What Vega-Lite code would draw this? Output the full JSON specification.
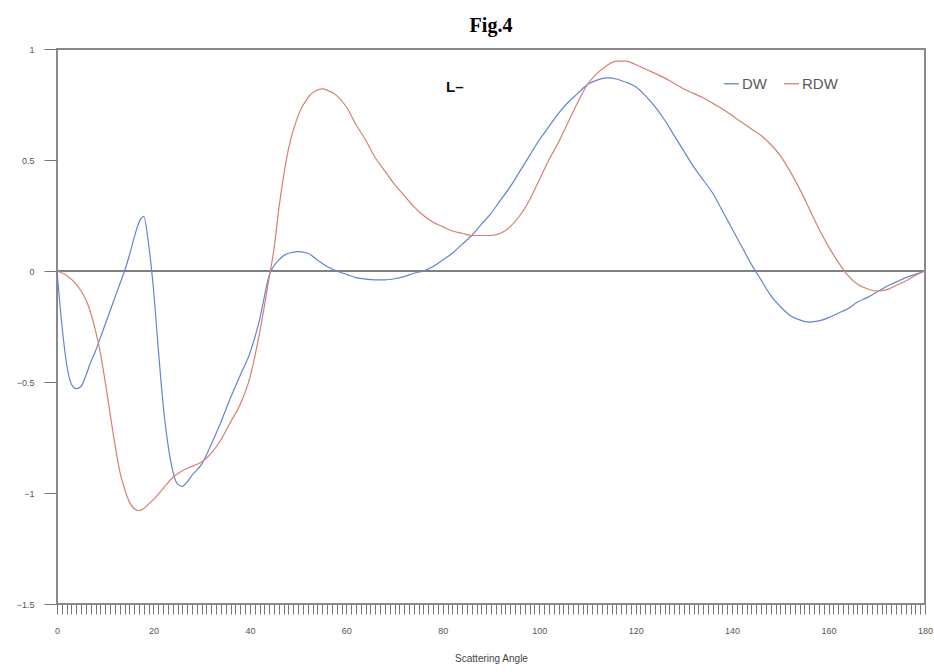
{
  "$schema": "https://vega.github.io/schema/vega-lite/v6.json",
  "autosize": {"type": "none"},
  "width": 868,
  "height": 555,
  "padding": {"left": 57, "top": 49, "right": 9, "bottom": 68},
  "background": "white",
  "title": {"text": "Fig.4", "font": "Liberation Serif", "fontSize": 20, "fontWeight": "bold", "color": "#000", "anchor": "middle", "offset": 9},
  "config": {
    "view": {"stroke": "#8a8a8a", "strokeWidth": 2},
    "axis": {"labelFont": "Liberation Sans", "titleFont": "Liberation Sans", "labelColor": "#555", "titleColor": "#444", "labelFontSize": 9, "titleFontSize": 10, "titleFontWeight": "normal", "domainColor": "#8a8a8a", "tickColor": "#777", "grid": false}
  },
  "datasets": {
    "curves": [
      {"angle": 0, "value": 0, "series": "DW"},
      {"angle": 1, "value": -0.24, "series": "DW"},
      {"angle": 2, "value": -0.42, "series": "DW"},
      {"angle": 3, "value": -0.51, "series": "DW"},
      {"angle": 4, "value": -0.53, "series": "DW"},
      {"angle": 5, "value": -0.52, "series": "DW"},
      {"angle": 6, "value": -0.47, "series": "DW"},
      {"angle": 7, "value": -0.41, "series": "DW"},
      {"angle": 8, "value": -0.36, "series": "DW"},
      {"angle": 9, "value": -0.3, "series": "DW"},
      {"angle": 10, "value": -0.24, "series": "DW"},
      {"angle": 11, "value": -0.18, "series": "DW"},
      {"angle": 12, "value": -0.12, "series": "DW"},
      {"angle": 13, "value": -0.06, "series": "DW"},
      {"angle": 14, "value": 0.0, "series": "DW"},
      {"angle": 15, "value": 0.07, "series": "DW"},
      {"angle": 16, "value": 0.15, "series": "DW"},
      {"angle": 17, "value": 0.22, "series": "DW"},
      {"angle": 18, "value": 0.245, "series": "DW"},
      {"angle": 19, "value": 0.12, "series": "DW"},
      {"angle": 20, "value": -0.08, "series": "DW"},
      {"angle": 21, "value": -0.35, "series": "DW"},
      {"angle": 22, "value": -0.6, "series": "DW"},
      {"angle": 23, "value": -0.78, "series": "DW"},
      {"angle": 24, "value": -0.9, "series": "DW"},
      {"angle": 25, "value": -0.96, "series": "DW"},
      {"angle": 26, "value": -0.97, "series": "DW"},
      {"angle": 27, "value": -0.95, "series": "DW"},
      {"angle": 28, "value": -0.92, "series": "DW"},
      {"angle": 30, "value": -0.87, "series": "DW"},
      {"angle": 32, "value": -0.78, "series": "DW"},
      {"angle": 34, "value": -0.68, "series": "DW"},
      {"angle": 36, "value": -0.57, "series": "DW"},
      {"angle": 38, "value": -0.47, "series": "DW"},
      {"angle": 40, "value": -0.37, "series": "DW"},
      {"angle": 42, "value": -0.22, "series": "DW"},
      {"angle": 44, "value": -0.02, "series": "DW"},
      {"angle": 46, "value": 0.05, "series": "DW"},
      {"angle": 48, "value": 0.08, "series": "DW"},
      {"angle": 50, "value": 0.087, "series": "DW"},
      {"angle": 52, "value": 0.08, "series": "DW"},
      {"angle": 54, "value": 0.05, "series": "DW"},
      {"angle": 56, "value": 0.02, "series": "DW"},
      {"angle": 58, "value": 0.0, "series": "DW"},
      {"angle": 60, "value": -0.015, "series": "DW"},
      {"angle": 62, "value": -0.03, "series": "DW"},
      {"angle": 64, "value": -0.037, "series": "DW"},
      {"angle": 66, "value": -0.04, "series": "DW"},
      {"angle": 68, "value": -0.04, "series": "DW"},
      {"angle": 70, "value": -0.035, "series": "DW"},
      {"angle": 72, "value": -0.025, "series": "DW"},
      {"angle": 74, "value": -0.01, "series": "DW"},
      {"angle": 76, "value": 0.0, "series": "DW"},
      {"angle": 78, "value": 0.02, "series": "DW"},
      {"angle": 80, "value": 0.05, "series": "DW"},
      {"angle": 82, "value": 0.08, "series": "DW"},
      {"angle": 84, "value": 0.12, "series": "DW"},
      {"angle": 86, "value": 0.16, "series": "DW"},
      {"angle": 88, "value": 0.21, "series": "DW"},
      {"angle": 90, "value": 0.26, "series": "DW"},
      {"angle": 92, "value": 0.32, "series": "DW"},
      {"angle": 94, "value": 0.38, "series": "DW"},
      {"angle": 96, "value": 0.45, "series": "DW"},
      {"angle": 98, "value": 0.52, "series": "DW"},
      {"angle": 100, "value": 0.59, "series": "DW"},
      {"angle": 102, "value": 0.65, "series": "DW"},
      {"angle": 104, "value": 0.71, "series": "DW"},
      {"angle": 106, "value": 0.76, "series": "DW"},
      {"angle": 108, "value": 0.8, "series": "DW"},
      {"angle": 110, "value": 0.84, "series": "DW"},
      {"angle": 112, "value": 0.86, "series": "DW"},
      {"angle": 114, "value": 0.87, "series": "DW"},
      {"angle": 116, "value": 0.865, "series": "DW"},
      {"angle": 118, "value": 0.85, "series": "DW"},
      {"angle": 120, "value": 0.83, "series": "DW"},
      {"angle": 122, "value": 0.79, "series": "DW"},
      {"angle": 124, "value": 0.74, "series": "DW"},
      {"angle": 126, "value": 0.68, "series": "DW"},
      {"angle": 128, "value": 0.61, "series": "DW"},
      {"angle": 130, "value": 0.54, "series": "DW"},
      {"angle": 132, "value": 0.47, "series": "DW"},
      {"angle": 134, "value": 0.41, "series": "DW"},
      {"angle": 136, "value": 0.35, "series": "DW"},
      {"angle": 138, "value": 0.27, "series": "DW"},
      {"angle": 140, "value": 0.19, "series": "DW"},
      {"angle": 142, "value": 0.11, "series": "DW"},
      {"angle": 144, "value": 0.03, "series": "DW"},
      {"angle": 146, "value": -0.04, "series": "DW"},
      {"angle": 148, "value": -0.11, "series": "DW"},
      {"angle": 150, "value": -0.16, "series": "DW"},
      {"angle": 152, "value": -0.2, "series": "DW"},
      {"angle": 154, "value": -0.22, "series": "DW"},
      {"angle": 156, "value": -0.23, "series": "DW"},
      {"angle": 158, "value": -0.225, "series": "DW"},
      {"angle": 160, "value": -0.21, "series": "DW"},
      {"angle": 162, "value": -0.19, "series": "DW"},
      {"angle": 164, "value": -0.17, "series": "DW"},
      {"angle": 166, "value": -0.14, "series": "DW"},
      {"angle": 168, "value": -0.12, "series": "DW"},
      {"angle": 170, "value": -0.095, "series": "DW"},
      {"angle": 172, "value": -0.07, "series": "DW"},
      {"angle": 174, "value": -0.05, "series": "DW"},
      {"angle": 176, "value": -0.03, "series": "DW"},
      {"angle": 178, "value": -0.015, "series": "DW"},
      {"angle": 180, "value": 0, "series": "DW"},
      {"angle": 0, "value": 0, "series": "RDW"},
      {"angle": 2, "value": -0.02, "series": "RDW"},
      {"angle": 4, "value": -0.06, "series": "RDW"},
      {"angle": 5, "value": -0.09, "series": "RDW"},
      {"angle": 6, "value": -0.13, "series": "RDW"},
      {"angle": 7, "value": -0.19, "series": "RDW"},
      {"angle": 8, "value": -0.27, "series": "RDW"},
      {"angle": 9, "value": -0.37, "series": "RDW"},
      {"angle": 10, "value": -0.5, "series": "RDW"},
      {"angle": 11, "value": -0.64, "series": "RDW"},
      {"angle": 12, "value": -0.78, "series": "RDW"},
      {"angle": 13, "value": -0.9, "series": "RDW"},
      {"angle": 14, "value": -0.98, "series": "RDW"},
      {"angle": 15, "value": -1.04, "series": "RDW"},
      {"angle": 16, "value": -1.07, "series": "RDW"},
      {"angle": 17, "value": -1.08, "series": "RDW"},
      {"angle": 18, "value": -1.07, "series": "RDW"},
      {"angle": 19, "value": -1.05, "series": "RDW"},
      {"angle": 20, "value": -1.03, "series": "RDW"},
      {"angle": 22, "value": -0.98, "series": "RDW"},
      {"angle": 24, "value": -0.93, "series": "RDW"},
      {"angle": 26, "value": -0.9, "series": "RDW"},
      {"angle": 28, "value": -0.88, "series": "RDW"},
      {"angle": 30, "value": -0.86, "series": "RDW"},
      {"angle": 32, "value": -0.82, "series": "RDW"},
      {"angle": 34, "value": -0.76, "series": "RDW"},
      {"angle": 36, "value": -0.68, "series": "RDW"},
      {"angle": 38, "value": -0.6, "series": "RDW"},
      {"angle": 40, "value": -0.48, "series": "RDW"},
      {"angle": 42, "value": -0.28, "series": "RDW"},
      {"angle": 44, "value": -0.03, "series": "RDW"},
      {"angle": 45, "value": 0.1, "series": "RDW"},
      {"angle": 46, "value": 0.28, "series": "RDW"},
      {"angle": 47, "value": 0.43, "series": "RDW"},
      {"angle": 48, "value": 0.55, "series": "RDW"},
      {"angle": 50, "value": 0.7, "series": "RDW"},
      {"angle": 52, "value": 0.78, "series": "RDW"},
      {"angle": 54, "value": 0.815, "series": "RDW"},
      {"angle": 55, "value": 0.82, "series": "RDW"},
      {"angle": 56, "value": 0.815, "series": "RDW"},
      {"angle": 58, "value": 0.79, "series": "RDW"},
      {"angle": 60, "value": 0.74, "series": "RDW"},
      {"angle": 62, "value": 0.66, "series": "RDW"},
      {"angle": 64, "value": 0.59, "series": "RDW"},
      {"angle": 66, "value": 0.51, "series": "RDW"},
      {"angle": 68, "value": 0.45, "series": "RDW"},
      {"angle": 70, "value": 0.39, "series": "RDW"},
      {"angle": 72, "value": 0.34, "series": "RDW"},
      {"angle": 74, "value": 0.29, "series": "RDW"},
      {"angle": 76, "value": 0.25, "series": "RDW"},
      {"angle": 78, "value": 0.22, "series": "RDW"},
      {"angle": 80, "value": 0.2, "series": "RDW"},
      {"angle": 82, "value": 0.18, "series": "RDW"},
      {"angle": 84, "value": 0.17, "series": "RDW"},
      {"angle": 86, "value": 0.16, "series": "RDW"},
      {"angle": 88, "value": 0.16, "series": "RDW"},
      {"angle": 90, "value": 0.16, "series": "RDW"},
      {"angle": 92, "value": 0.17, "series": "RDW"},
      {"angle": 94, "value": 0.2, "series": "RDW"},
      {"angle": 96, "value": 0.25, "series": "RDW"},
      {"angle": 98, "value": 0.32, "series": "RDW"},
      {"angle": 100, "value": 0.41, "series": "RDW"},
      {"angle": 102, "value": 0.5, "series": "RDW"},
      {"angle": 104, "value": 0.58, "series": "RDW"},
      {"angle": 106, "value": 0.67, "series": "RDW"},
      {"angle": 108, "value": 0.76, "series": "RDW"},
      {"angle": 110, "value": 0.84, "series": "RDW"},
      {"angle": 112, "value": 0.89, "series": "RDW"},
      {"angle": 114, "value": 0.925, "series": "RDW"},
      {"angle": 116, "value": 0.945, "series": "RDW"},
      {"angle": 118, "value": 0.945, "series": "RDW"},
      {"angle": 120, "value": 0.93, "series": "RDW"},
      {"angle": 122, "value": 0.91, "series": "RDW"},
      {"angle": 124, "value": 0.89, "series": "RDW"},
      {"angle": 126, "value": 0.87, "series": "RDW"},
      {"angle": 128, "value": 0.845, "series": "RDW"},
      {"angle": 130, "value": 0.82, "series": "RDW"},
      {"angle": 132, "value": 0.8, "series": "RDW"},
      {"angle": 134, "value": 0.78, "series": "RDW"},
      {"angle": 136, "value": 0.755, "series": "RDW"},
      {"angle": 138, "value": 0.73, "series": "RDW"},
      {"angle": 140, "value": 0.7, "series": "RDW"},
      {"angle": 142, "value": 0.67, "series": "RDW"},
      {"angle": 144, "value": 0.64, "series": "RDW"},
      {"angle": 146, "value": 0.61, "series": "RDW"},
      {"angle": 148, "value": 0.57, "series": "RDW"},
      {"angle": 150, "value": 0.52, "series": "RDW"},
      {"angle": 152, "value": 0.45, "series": "RDW"},
      {"angle": 154, "value": 0.37, "series": "RDW"},
      {"angle": 156, "value": 0.28, "series": "RDW"},
      {"angle": 158, "value": 0.19, "series": "RDW"},
      {"angle": 160, "value": 0.11, "series": "RDW"},
      {"angle": 162, "value": 0.04, "series": "RDW"},
      {"angle": 164, "value": -0.02, "series": "RDW"},
      {"angle": 166, "value": -0.06, "series": "RDW"},
      {"angle": 168, "value": -0.08, "series": "RDW"},
      {"angle": 170, "value": -0.09, "series": "RDW"},
      {"angle": 172, "value": -0.085, "series": "RDW"},
      {"angle": 174, "value": -0.065, "series": "RDW"},
      {"angle": 176, "value": -0.045, "series": "RDW"},
      {"angle": 178, "value": -0.02, "series": "RDW"},
      {"angle": 180, "value": 0, "series": "RDW"}
    ],
    "zero": [{"value": 0}],
    "note": [{"angle": 82.5, "value": 0.83, "label": "L–"}]
  },
  "layer": [
    {
      "data": {"name": "zero"},
      "mark": {"type": "rule", "color": "#808080", "strokeWidth": 2},
      "encoding": {"y": {"field": "value", "type": "quantitative", "scale": {"domain": [-1.5, 1]}}}
    },
    {
      "data": {"name": "curves"},
      "mark": {"type": "line", "interpolate": "monotone", "strokeWidth": 1.2},
      "encoding": {
        "x": {"field": "angle", "type": "quantitative", "title": "Scattering Angle",
              "scale": {"domain": [0, 180], "nice": false},
              "axis": {"values": [0,1,2,3,4,5,6,7,8,9,10,11,12,13,14,15,16,17,18,19,20,21,22,23,24,25,26,27,28,29,30,31,32,33,34,35,36,37,38,39,40,41,42,43,44,45,46,47,48,49,50,51,52,53,54,55,56,57,58,59,60,61,62,63,64,65,66,67,68,69,70,71,72,73,74,75,76,77,78,79,80,81,82,83,84,85,86,87,88,89,90,91,92,93,94,95,96,97,98,99,100,101,102,103,104,105,106,107,108,109,110,111,112,113,114,115,116,117,118,119,120,121,122,123,124,125,126,127,128,129,130,131,132,133,134,135,136,137,138,139,140,141,142,143,144,145,146,147,148,149,150,151,152,153,154,155,156,157,158,159,160,161,162,163,164,165,166,167,168,169,170,171,172,173,174,175,176,177,178,179,180],
                       "tickCount": 400, "format": "d",
                       "tickSize": 10, "tickWidth": 1, "labelPadding": 12, "titlePadding": 18, "labelOverlap": false, "labelFlush": false, "domain": false,
                       "labelExpr": "datum.value % 20 === 0 ? datum.label : ''"}},
        "y": {"field": "value", "type": "quantitative", "title": null,
              "scale": {"domain": [-1.5, 1], "nice": false},
              "axis": {"values": [-1.5, -1, -0.5, 0, 0.5, 1], "tickSize": 13, "labelPadding": 10, "format": "~g", "domain": false}},
        "color": {"field": "series", "type": "nominal",
                  "scale": {"domain": ["DW", "RDW"], "range": ["#6384d4", "#d6806f"]},
                  "legend": {"title": null, "orient": "none", "legendX": 666, "legendY": 26, "direction": "horizontal", "symbolType": "stroke", "symbolSize": 220, "symbolStrokeWidth": 1.3, "labelFont": "Liberation Sans", "labelFontSize": 15, "labelColor": "#5a5a5a", "columnPadding": 14, "labelOffset": 2}}
      }
    },
    {
      "data": {"name": "note"},
      "mark": {"type": "text", "font": "Liberation Sans", "fontSize": 15, "fontWeight": "bold", "color": "#111"},
      "encoding": {
        "x": {"field": "angle", "type": "quantitative"},
        "y": {"field": "value", "type": "quantitative"},
        "text": {"field": "label"}
      }
    }
  ]
}
